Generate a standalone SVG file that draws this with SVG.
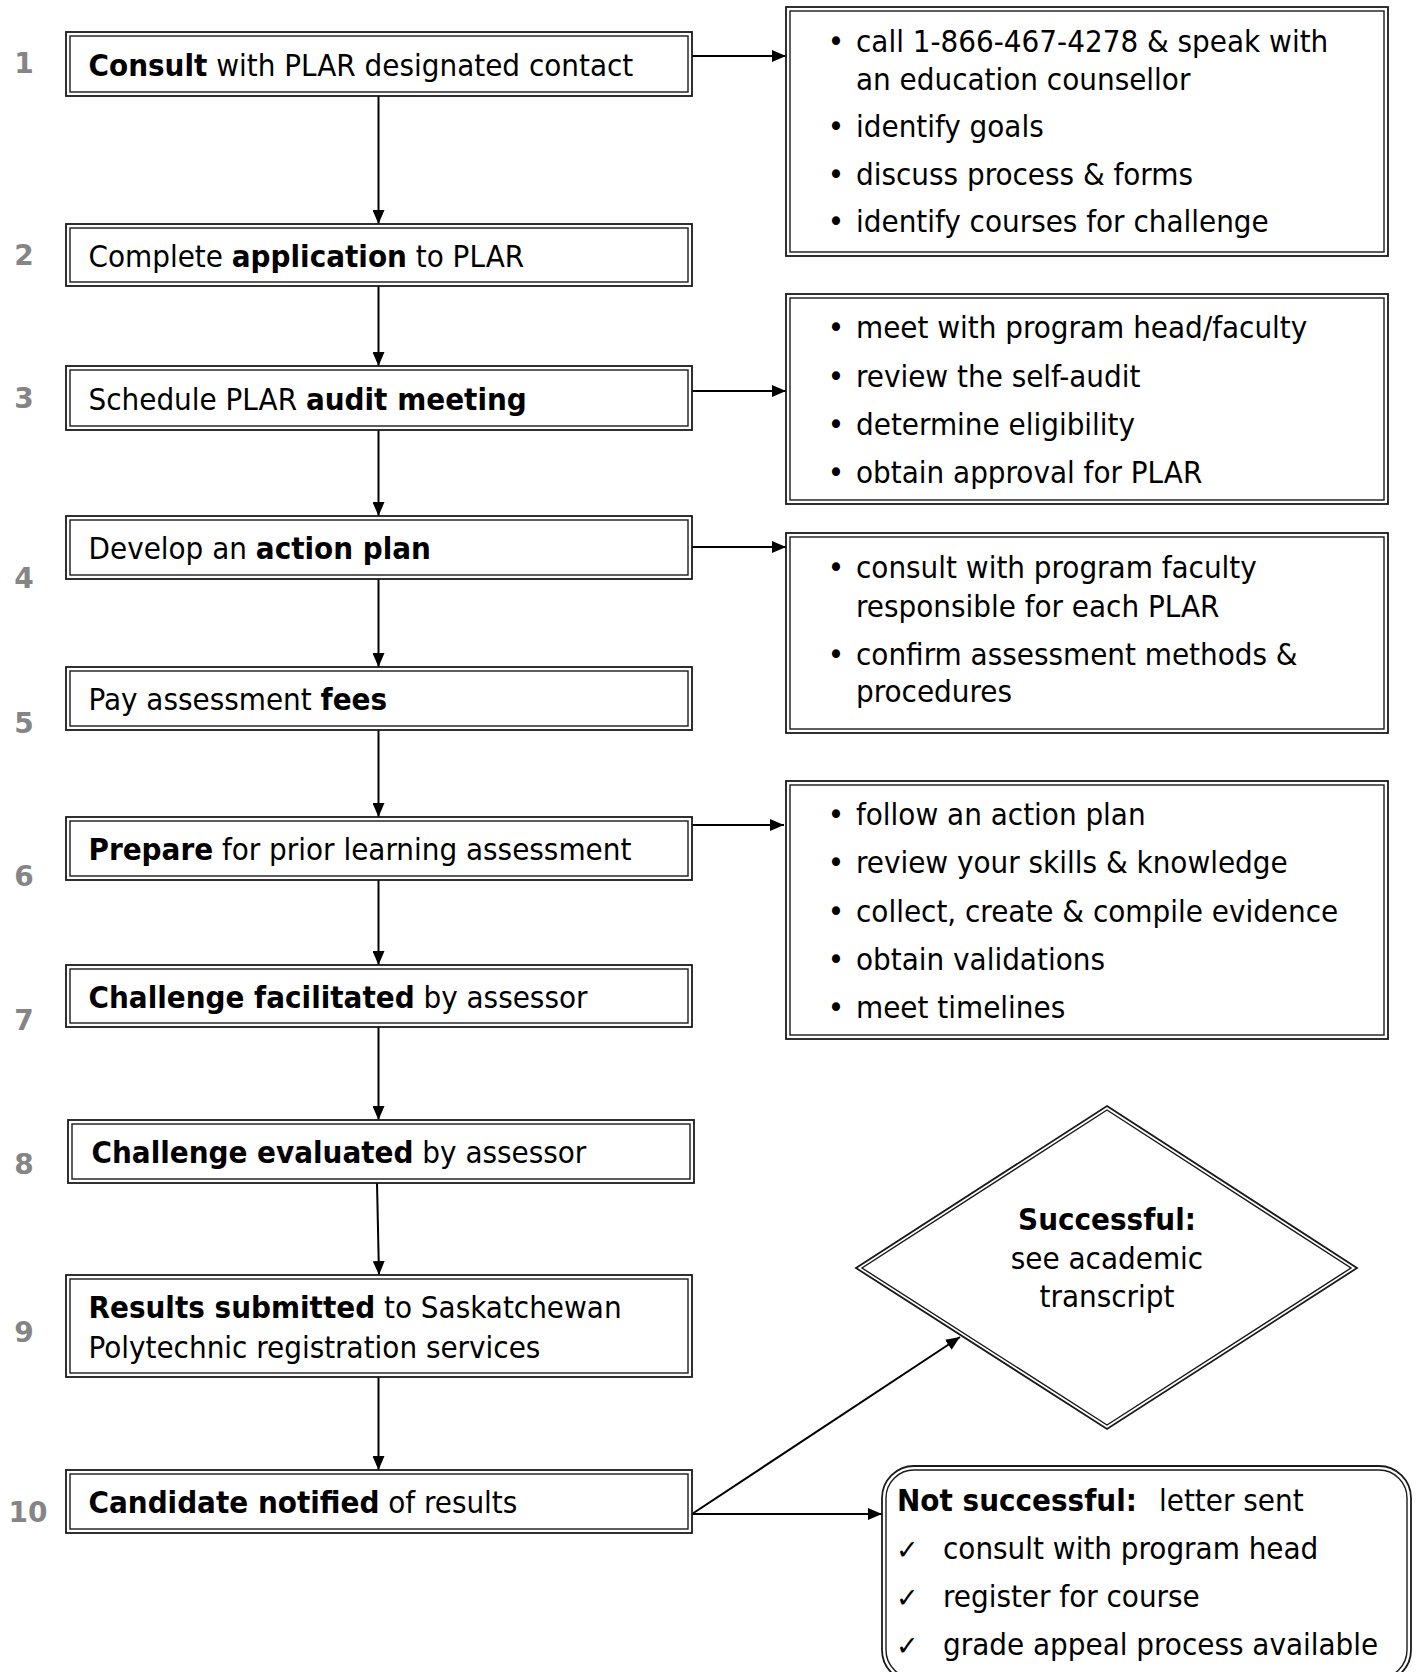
<svg xmlns="http://www.w3.org/2000/svg" width="1416" height="1672" viewBox="0 0 1416 1672">
<style>
text{font-family:"DejaVu Sans Condensed","DejaVu Sans",sans-serif;font-stretch:condensed;font-size:31px;fill:#000}
.b{font-weight:bold}
.num{font-family:"DejaVu Sans",sans-serif;font-stretch:normal;font-weight:bold;font-size:28px;fill:#858585;text-anchor:middle}
.ctr{text-anchor:middle}
.chk{font-family:"DejaVu Sans",sans-serif;font-stretch:normal;font-size:27px}
.o{fill:#fff;stroke:#1a1a1a;stroke-width:1.8}
.i{fill:none;stroke:#1a1a1a;stroke-width:1.4}
.c{fill:none;stroke:#000;stroke-width:2}
</style>
<defs>
<marker id="arr" viewBox="0 0 14 12" refX="14" refY="6" markerWidth="14" markerHeight="12" markerUnits="userSpaceOnUse" orient="auto">
<path d="M0,0 L14,6 L0,12 z" fill="#000"/>
</marker>
</defs>

<g id="connectors">
<line class="c" x1="378.5" y1="96" x2="378.5" y2="224" marker-end="url(#arr)"/>
<line class="c" x1="378.5" y1="286" x2="378.5" y2="366" marker-end="url(#arr)"/>
<line class="c" x1="378.5" y1="430" x2="378.5" y2="516" marker-end="url(#arr)"/>
<line class="c" x1="378.5" y1="579" x2="378.5" y2="667" marker-end="url(#arr)"/>
<line class="c" x1="378.5" y1="730" x2="378.5" y2="817" marker-end="url(#arr)"/>
<line class="c" x1="378.5" y1="880" x2="378.5" y2="965" marker-end="url(#arr)"/>
<line class="c" x1="378.5" y1="1027" x2="378.5" y2="1120" marker-end="url(#arr)"/>
<line class="c" x1="377" y1="1183" x2="379" y2="1275" marker-end="url(#arr)"/>
<line class="c" x1="378.5" y1="1377" x2="378.5" y2="1470" marker-end="url(#arr)"/>
<line class="c" x1="692" y1="56" x2="786" y2="56" marker-end="url(#arr)"/>
<line class="c" x1="692" y1="391" x2="786" y2="391" marker-end="url(#arr)"/>
<line class="c" x1="692" y1="547" x2="786" y2="547" marker-end="url(#arr)"/>
<line class="c" x1="689" y1="825" x2="784" y2="825" marker-end="url(#arr)"/>
<line class="c" x1="692" y1="1514" x2="960" y2="1337" marker-end="url(#arr)"/>
<line class="c" x1="692" y1="1514" x2="882" y2="1514" marker-end="url(#arr)"/>
</g>

<g id="step1">
<text class="num" x="24" y="73">1</text>
<rect class="o" x="66" y="32" width="626" height="64"/>
<rect class="i" x="70" y="36" width="618" height="56"/>
<text x="88.5" y="76"><tspan class="b">Consult</tspan> with PLAR designated contact</text>
</g>
<g id="step2">
<text class="num" x="24" y="265">2</text>
<rect class="o" x="66" y="224" width="626" height="62"/>
<rect class="i" x="70" y="228" width="618" height="54"/>
<text x="88.5" y="267">Complete <tspan class="b">application</tspan> to PLAR</text>
</g>
<g id="step3">
<text class="num" x="24" y="408">3</text>
<rect class="o" x="66" y="366" width="626" height="64"/>
<rect class="i" x="70" y="370" width="618" height="56"/>
<text x="88.5" y="410">Schedule PLAR <tspan class="b">audit meeting</tspan></text>
</g>
<g id="step4">
<text class="num" x="24" y="588">4</text>
<rect class="o" x="66" y="516" width="626" height="63"/>
<rect class="i" x="70" y="520" width="618" height="55"/>
<text x="88.5" y="559">Develop an <tspan class="b">action plan</tspan></text>
</g>
<g id="step5">
<text class="num" x="24" y="733">5</text>
<rect class="o" x="66" y="667" width="626" height="63"/>
<rect class="i" x="70" y="671" width="618" height="55"/>
<text x="88.5" y="710">Pay assessment <tspan class="b">fees</tspan></text>
</g>
<g id="step6">
<text class="num" x="24" y="886">6</text>
<rect class="o" x="66" y="817" width="626" height="63"/>
<rect class="i" x="70" y="821" width="618" height="55"/>
<text x="88.5" y="860"><tspan class="b">Prepare</tspan> for prior learning assessment</text>
</g>
<g id="step7">
<text class="num" x="24" y="1030">7</text>
<rect class="o" x="66" y="965" width="626" height="62"/>
<rect class="i" x="70" y="969" width="618" height="54"/>
<text x="88.5" y="1008"><tspan class="b">Challenge facilitated</tspan> by assessor</text>
</g>
<g id="step8">
<text class="num" x="24" y="1174">8</text>
<rect class="o" x="68" y="1120" width="626" height="63"/>
<rect class="i" x="72" y="1124" width="618" height="55"/>
<text x="91.5" y="1163"><tspan class="b">Challenge evaluated</tspan> by assessor</text>
</g>
<g id="step9">
<text class="num" x="24" y="1342">9</text>
<rect class="o" x="66" y="1275" width="626" height="102"/>
<rect class="i" x="70" y="1279" width="618" height="94"/>
<text x="88.5" y="1318"><tspan class="b">Results submitted</tspan> to Saskatchewan</text>
<text x="88.5" y="1358">Polytechnic registration services</text>
</g>
<g id="step10">
<text class="num" x="28" y="1522">10</text>
<rect class="o" x="66" y="1470" width="626" height="63"/>
<rect class="i" x="70" y="1474" width="618" height="55"/>
<text x="88.5" y="1513"><tspan class="b">Candidate notified</tspan> of results</text>
</g>

<g id="detail1">
<rect class="o" x="786" y="7" width="602" height="249"/>
<rect class="i" x="790" y="11" width="594" height="241"/>
<text class="ctr" x="836" y="52">•</text><text x="856" y="52">call 1-866-467-4278 &amp; speak with</text>
<text x="856" y="90">an education counsellor</text>
<text class="ctr" x="836" y="137">•</text><text x="856" y="137">identify goals</text>
<text class="ctr" x="836" y="185">•</text><text x="856" y="185">discuss process &amp; forms</text>
<text class="ctr" x="836" y="232">•</text><text x="856" y="232">identify courses for challenge</text>
</g>
<g id="detail3">
<rect class="o" x="786" y="294" width="602" height="210"/>
<rect class="i" x="790" y="298" width="594" height="202"/>
<text class="ctr" x="836" y="338">•</text><text x="856" y="338">meet with program head/faculty</text>
<text class="ctr" x="836" y="387">•</text><text x="856" y="387">review the self-audit</text>
<text class="ctr" x="836" y="435">•</text><text x="856" y="435">determine eligibility</text>
<text class="ctr" x="836" y="483">•</text><text x="856" y="483">obtain approval for PLAR</text>
</g>
<g id="detail4">
<rect class="o" x="786" y="533" width="602" height="200"/>
<rect class="i" x="790" y="537" width="594" height="192"/>
<text class="ctr" x="836" y="578">•</text><text x="856" y="578">consult with program faculty</text>
<text x="856" y="617">responsible for each PLAR</text>
<text class="ctr" x="836" y="665">•</text><text x="856" y="665">confirm assessment methods &amp;</text>
<text x="856" y="702">procedures</text>
</g>
<g id="detail6">
<rect class="o" x="786" y="781" width="602" height="258"/>
<rect class="i" x="790" y="785" width="594" height="250"/>
<text class="ctr" x="836" y="825">•</text><text x="856" y="825">follow an action plan</text>
<text class="ctr" x="836" y="873">•</text><text x="856" y="873">review your skills &amp; knowledge</text>
<text class="ctr" x="836" y="922">•</text><text x="856" y="922">collect, create &amp; compile evidence</text>
<text class="ctr" x="836" y="970">•</text><text x="856" y="970">obtain validations</text>
<text class="ctr" x="836" y="1018">•</text><text x="856" y="1018">meet timelines</text>
</g>

<g id="successful">
<polygon class="o" points="1107,1106 1357,1268 1107,1429 856,1268"/>
<polygon class="i" points="1107,1110 1351,1268 1107,1425 862,1268"/>
<text class="ctr b" x="1107" y="1230">Successful:</text>
<text class="ctr" x="1107" y="1269">see academic</text>
<text class="ctr" x="1107" y="1307">transcript</text>
</g>

<g id="not-successful">
<rect class="o" x="882" y="1466" width="529" height="216" rx="32"/>
<rect class="i" x="886" y="1470" width="521" height="208" rx="28"/>
<text x="897" y="1511"><tspan class="b">Not successful:</tspan></text>
<text x="1159" y="1511">letter sent</text>
<text class="chk" x="896" y="1559">✓</text><text x="943" y="1559">consult with program head</text>
<text class="chk" x="896" y="1607">✓</text><text x="943" y="1607">register for course</text>
<text class="chk" x="896" y="1655">✓</text><text x="943" y="1655">grade appeal process available</text>
</g>
</svg>
